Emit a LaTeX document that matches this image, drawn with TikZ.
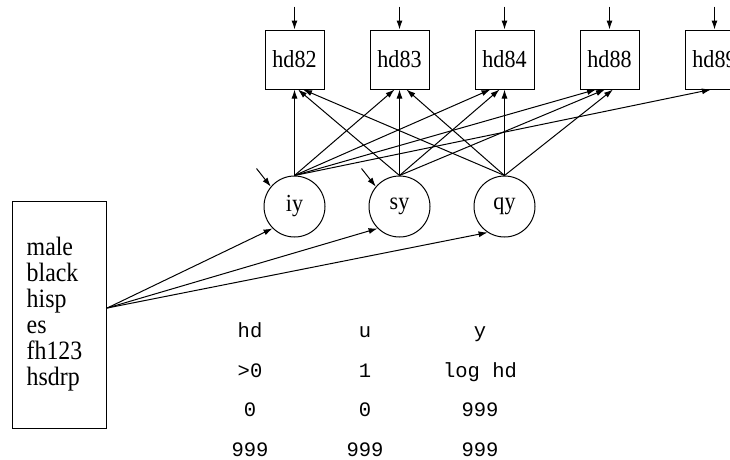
\documentclass[tikz,border=0pt]{standalone}
\usepackage{fontspec}
\setmainfont{Liberation Serif}[FakeStretch=0.9]
\setmonofont{Liberation Mono}
\usetikzlibrary{positioning, arrows.meta}
\tikzset{
    observed/.style={draw, rectangle, minimum width=59pt, minimum height=59pt, inner sep=0pt, font=\fontsize{24.5}{26}\selectfont},
    latent/.style={draw, circle, minimum size=61pt, inner sep=0pt, font=\fontsize{24.5}{26}\selectfont},
    covbox/.style={draw, rectangle, text width=66pt, inner xsep=14pt, minimum height=227pt, align=left, font=\fontsize{26.5}{26}\selectfont},
    cell/.style={anchor=base, font=\ttfamily\fontsize{20.5}{22}\selectfont},
    effect/.style = {-{Latex[length=9pt,width=6pt]}} }

\begin{document}
\begin{tikzpicture}[x=1pt, y=-1pt, line width=1pt, node distance=45pt]
    \useasboundingbox (0,0) rectangle (730,459);
    \node[observed] (hd82) at (294.5,59.5) {hd82};
    \node[observed, right = of hd82] (hd83) {hd83};
    \node[observed, right = of hd83] (hd84) {hd84};
    \node[observed, right = of hd84] (hd88) {hd88};
    \node[observed, right = of hd88] (hd89) {hd89};
    \node[latent, below = 86pt of hd82] (iy) {iy};
    \node[latent, right = 43pt of iy] (sy) {sy};
    \node[latent, right = 43pt of sy] (qy) {qy};
    \node[covbox] (cov) at (59.7,314.5) {male\\black\\hisp\\es\\fh123\\hsdrp};
    \foreach \a/\b/\c [count=\r] in {hd/u/y, >0/1/log hd, 0/0/999, 999/999/999}{
        \node[cell] (ta\r) at (250, 298+39.6*\r) {\a};
        \node[cell] (tb\r) at (365, 298+39.6*\r) {\b};
        \node[cell] (tc\r) at (480, 298+39.6*\r) {\c};
    }
    % ---- residuals
    \foreach \v in {82,83,84,88,89}{
        \coordinate (e\v) at ([yshift=23pt]hd\v.north);
        \draw[effect] (e\v) -- (hd\v.north);
    }
    \foreach \v in {iy,sy}{
        \coordinate (e\v) at ([xshift=-38pt,yshift=38pt]\v.center);
        \draw[effect] (e\v) -- (\v.140);
    }
    % ---- loadings
    \path[effect]
        (iy.north) edge (iy.north |- hd82.south)
                   edge ([xshift=-5pt]hd83.south)
                   edge ([xshift=-14pt]hd84.south)
                   edge ([xshift=-13.5pt]hd88.south)
                   edge ([xshift=-3.5pt]hd89.south)
        (sy.north) edge ([xshift=3.5pt]hd82.south)
                   edge (sy.north |- hd83.south)
                   edge ([xshift=-5pt]hd84.south)
                   edge ([xshift=-4.5pt]hd88.south)
        (qy.north) edge ([xshift=8.5pt]hd82.south)
                   edge ([xshift=7pt]hd83.south)
                   edge (qy.north |- hd84.south)
                   edge ([xshift=3.5pt]hd88.south);
    % ---- covariates
    \path[effect] ([yshift=6.5pt]cov.east)
        edge (iy.225)
        edge (sy.225)
        edge (qy.237);
\end{tikzpicture}
\end{document}
